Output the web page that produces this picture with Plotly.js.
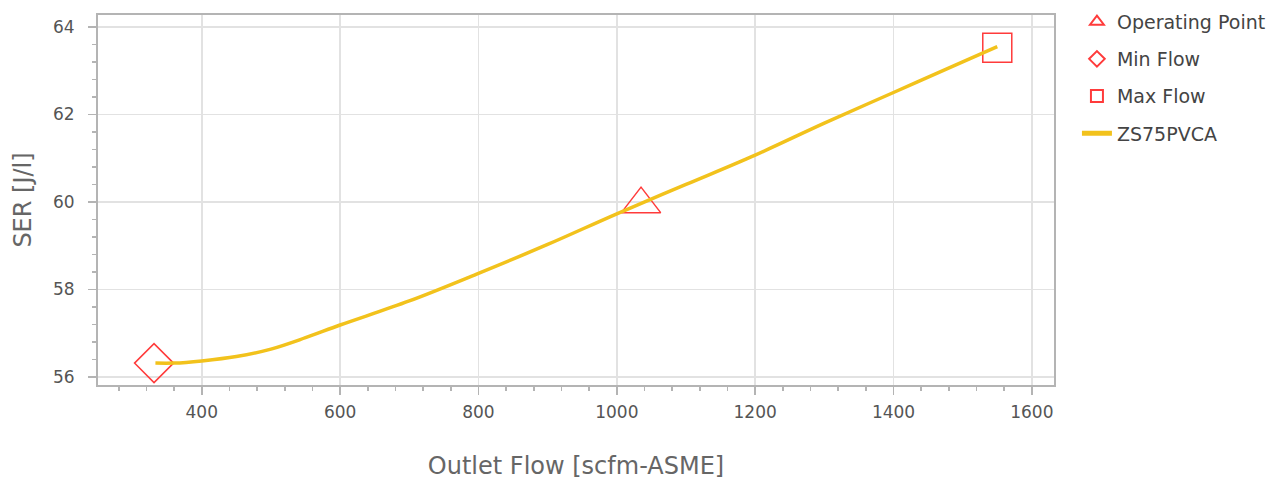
<!DOCTYPE html>
<html><head><meta charset="utf-8">
<script src="https://cdn.plot.ly/plotly-3.0.1.min.js"></script>
<style>body{margin:0;background:#fff}#c{width:1285px;height:483px}</style>
</head><body><div id="c"></div>
<script>
const curveX = [333, 360, 400, 450, 500, 550, 600, 700, 800, 900, 1000, 1100, 1200, 1300, 1400, 1500, 1550];
const curveY = [56.32, 56.32, 56.37, 56.47, 56.64, 56.9, 57.19, 57.74, 58.37, 59.03, 59.73, 60.4, 61.07, 61.8, 62.5, 63.2, 63.55];
const opX = [1035], opY = [59.95];
const minX = [331], minY = [56.32];
const maxX = [1550], maxY = [63.52];
const seriesName = 'ZS75PVCA';
const red = '#ff3b3b';
const data = [
  {x: opX, y: opY, name: 'Operating Point', legendgroup: 'a', mode: 'markers', type: 'scatter',
   marker: {symbol: 'triangle-up-open', size: 34, color: red, line: {width: 1.5, color: red}}},
  {x: minX, y: minY, name: 'Min Flow', legendgroup: 'b', mode: 'markers', type: 'scatter',
   marker: {symbol: 'diamond-open', size: 30, color: red, line: {width: 1.5, color: red}}},
  {x: maxX, y: maxY, name: 'Max Flow', legendgroup: 'c', mode: 'markers', type: 'scatter',
   marker: {symbol: 'square-open', size: 29, color: red, line: {width: 1.5, color: red}}},
  {x: curveX, y: curveY, name: seriesName, legendgroup: 'd', mode: 'lines', type: 'scatter',
   line: {color: '#f2c21c', width: 3.5, shape: 'spline'}}
];
const layout = {
  width: 1285, height: 483,
  margin: {l: 98, r: 231, t: 15, b: 98, autoexpand: false},
  paper_bgcolor: '#fff', plot_bgcolor: '#fff',
  font: {family: 'DejaVu Sans, sans-serif', color: '#555', size: 17},
  showlegend: true,
  legend: {x: 1.024, y: 1.033, xanchor: 'left', yanchor: 'top', font: {size: 19, color: '#444'},
           itemsizing: 'constant', tracegroupgap: 9.5, traceorder: 'grouped'},
  xaxis: {
    range: [250, 1632], dtick: 200, tick0: 0,
    showgrid: true, gridcolor: '#e2e2e2', gridwidth: 1.5,
    showline: true, linecolor: '#b4b4b4', linewidth: 2, mirror: true,
    ticks: 'outside', ticklen: 8, tickcolor: '#b4b4b4', tickwidth: 1.5,
    ticklabelstandoff: 3,
    minor: {dtick: 40, ticks: 'outside', ticklen: 4, tickcolor: '#b4b4b4', showgrid: false},
    zeroline: false, tickfont: {size: 17, color: '#555'},
    title: {text: 'Outlet Flow [scfm-ASME]', font: {size: 24, color: '#666'}, standoff: 36}
  },
  yaxis: {
    range: [55.82, 64.27], dtick: 2, tick0: 0,
    showgrid: true, gridcolor: '#e2e2e2', gridwidth: 1.5,
    showline: true, linecolor: '#b4b4b4', linewidth: 2, mirror: true,
    ticks: 'outside', ticklen: 8, tickcolor: '#b4b4b4', tickwidth: 1.5,
    ticklabelstandoff: 10,
    minor: {dtick: 0.4, ticks: 'outside', ticklen: 4, tickcolor: '#b4b4b4', showgrid: false},
    zeroline: false, tickfont: {size: 17, color: '#555'},
    title: {text: 'SER [J/l]', font: {size: 24, color: '#666'}, standoff: 15}
  }
};
Plotly.newPlot('c', data, layout, {displayModeBar: false, staticPlot: true});
</script></body></html>
